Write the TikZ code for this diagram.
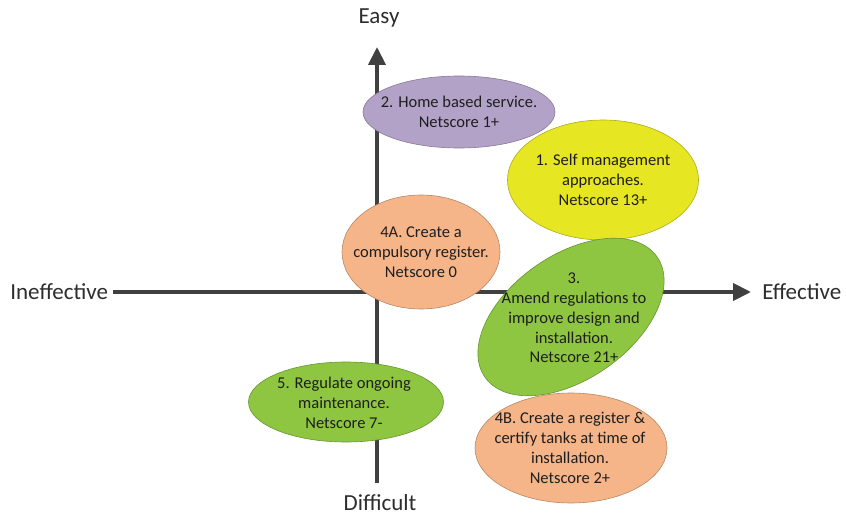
\documentclass[tikz,border=0pt]{standalone}
\usepackage{fontspec}
\setmainfont{Carlito}
\usetikzlibrary{shapes.geometric,arrows.meta}

\definecolor{axisgray}{RGB}{64,64,64}
\definecolor{ideapurple}{RGB}{179,162,199}
\definecolor{ideayellow}{RGB}{230,230,34}
\definecolor{ideagreen}{RGB}{142,198,66}
\definecolor{ideaorange}{RGB}{245,181,136}
\definecolor{ideatext}{RGB}{30,30,30}

\tikzset{every picture/.style={line width=0.75pt}}
\tikzset{
  axisline/.style={draw=axisgray, line width=4pt, -{Triangle[length=18pt,width=17pt]}},
  axislabel/.style={inner sep=0pt, text=axisgray!70!black, font=\fontsize{23}{27}\selectfont},
  idea/.style={ellipse, inner sep=0pt, draw=#1!75!black, fill=#1, line width=0.6pt},
  ideatxt/.style={inner sep=0pt, align=center, text=ideatext, font=\fontsize{16.5}{19.8}\selectfont}
}

\begin{document}
\begin{tikzpicture}[x=1pt,y=1pt,yscale=-1,xscale=1]
\useasboundingbox (0,0) rectangle (846,516);

% Axis labels
\node[axislabel] (easy) at (379,18) {Easy};
\node[axislabel] (difficult) at (380,503) {Difficult};
\node[axislabel, anchor=west] (ineffective) at (10,292) {Ineffective};
\node[axislabel, anchor=west] (effective) at (762,292) {Effective};

% Axis ends
\coordinate (xleft) at (113,292);
\coordinate (xright) at (751,292);
\coordinate (ybottom) at (377,483);
\coordinate (ytop) at (377,47);

%Straight Lines: axes
\draw[axisline] (xleft) -- (xright);
\draw[axisline] (ybottom) -- (ytop);

%Shape: Ellipse 2
\node[idea=ideapurple, minimum width=192pt, minimum height=72pt] (home) at (459,112) {};
\node[ideatxt] (hometxt) at (home.center) {2. Home based service.\\Netscore 1+};
%Shape: Ellipse 1
\node[idea=ideayellow, minimum width=191pt, minimum height=120pt] (self) at (603,180) {};
\node[ideatxt] (selftxt) at (self.center) {1. Self management\\approaches.\\Netscore 13+};
%Shape: Ellipse 4A
\node[idea=ideaorange, minimum width=158pt, minimum height=114pt] (regA) at (421,252) {};
\node[ideatxt] (regAtxt) at (regA.center) {4A. Create a\\compulsory register.\\Netscore 0};
%Shape: Ellipse 3 (tilted)
\node[idea=ideagreen, minimum width=210pt, minimum height=124pt, rotate=35] (amend) at (571,317) {};
\node[ideatxt] (amendtxt) at (574,318) {3.\\Amend regulations to\\improve design and\\installation.\\Netscore 21+};
%Shape: Ellipse 5
\node[idea=ideagreen, minimum width=195pt, minimum height=80pt] (maint) at (346,402) {};
\node[ideatxt] (mainttxt) at (344,403) {5. Regulate ongoing\\maintenance.\\Netscore 7-};
%Shape: Ellipse 4B
\node[idea=ideaorange, minimum width=192pt, minimum height=110pt] (regB) at (571,448) {};
\node[ideatxt] (regBtxt) at (570,448) {4B. Create a register \&\\certify tanks at time of\\installation.\\Netscore 2+};

\end{tikzpicture}
\end{document}
